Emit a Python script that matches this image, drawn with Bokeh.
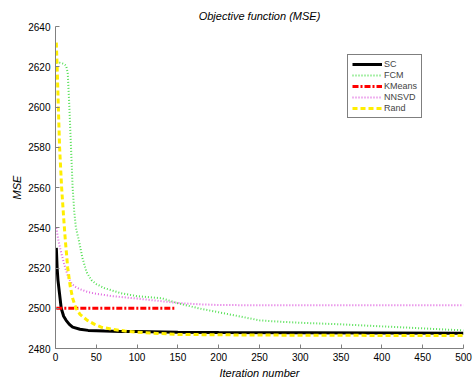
from bokeh.plotting import figure
from bokeh.models import Range1d, FixedTicker, Legend, LegendItem
from bokeh.embed import file_html
from bokeh.resources import INLINE

# ---- data ----
sc_it = [1, 2, 3, 5, 7, 10, 13, 17, 21, 30, 40, 60, 80, 100, 150, 200, 300, 400, 500]
sc_val = [2530, 2520, 2514, 2507, 2500, 2496, 2494, 2492, 2490.6, 2489.6, 2489, 2488.7,
          2488.5, 2488.4, 2488.1, 2487.9, 2487.8, 2487.7, 2487.6]

fcm_it = [1, 5, 10, 13, 15, 17, 19, 21, 23, 25, 29, 33, 38, 44, 50, 60, 80, 100, 130, 150,
          175, 200, 225, 250, 275, 300, 350, 400, 450, 500]
fcm_val = [2622, 2622, 2621.5, 2620.5, 2617, 2600, 2580, 2560, 2548, 2540, 2533, 2525, 2518,
           2514, 2512, 2510, 2507.5, 2506, 2505, 2502.5, 2500, 2498, 2496, 2494, 2493.3,
           2492.8, 2492, 2491, 2490, 2489]

km_it = [1, 148]
km_val = [2500, 2500]

nn_it = [1, 3, 5, 8, 12, 16, 20, 25, 30, 40, 50, 70, 100, 130, 150, 175, 200, 250, 300, 400, 500]
nn_val = [2540, 2535, 2531, 2526, 2520, 2515, 2512, 2510.5, 2509.5, 2508, 2507.2, 2506,
          2504.8, 2503.5, 2502.6, 2502, 2501.6, 2501.5, 2501.5, 2501.5, 2501.5]

rand_it = [1, 2, 3.5, 5, 7.5, 10, 12, 15, 18, 21, 25, 30, 39, 48, 56, 70, 85, 100, 125, 150,
           200, 300, 400, 500]
rand_val = [2632, 2620, 2600, 2580, 2560, 2545, 2534, 2520, 2511, 2505, 2500, 2497, 2494,
            2492, 2490.6, 2489.5, 2488.7, 2488.1, 2487.5, 2487, 2486.8, 2486.6, 2486.5, 2486.5]

x_ticks = [0, 50, 100, 150, 200, 250, 300, 350, 400, 450, 500]
y_ticks = [2480, 2500, 2520, 2540, 2560, 2580, 2600, 2620, 2640]

FONT = "Liberation Sans"

p = figure(width=476, height=383, output_backend="svg", toolbar_location=None,
           x_range=Range1d(0, 500), y_range=Range1d(2480, 2640),
           min_border_left=55, min_border_right=13, min_border_top=26, min_border_bottom=35)

p.title.text = "Objective function (MSE)"
p.title.align = "center"
p.title.text_font = FONT
p.title.text_font_style = "italic"
p.title.text_font_size = "11px"
p.title.text_color = "black"

p.outline_line_color = None
p.xgrid.visible = False
p.ygrid.visible = False

for ax in (p.xaxis[0], p.yaxis[0]):
    ax.axis_line_color = "#808080"
    ax.major_tick_line_color = "#808080"
    ax.minor_tick_line_color = None
    ax.major_tick_in = 4
    ax.major_tick_out = 0
    ax.major_label_text_font = FONT
    ax.major_label_text_font_size = "10px"
    ax.major_label_text_color = "black"
    ax.axis_label_text_font = FONT
    ax.axis_label_text_font_style = "italic"
    ax.axis_label_text_font_size = "11px"
    ax.axis_label_text_color = "black"

p.xaxis.ticker = FixedTicker(ticks=x_ticks)
p.yaxis.ticker = FixedTicker(ticks=y_ticks)
p.xaxis.axis_label = "Iteration number"
p.yaxis.axis_label = "MSE"
p.xaxis.major_label_standoff = 4
p.yaxis.major_label_standoff = 5
p.xaxis.axis_label_standoff = 3
p.yaxis.axis_label_standoff = 2

r_sc = p.line(sc_it, sc_val, line_color="black", line_width=3)
r_fcm = p.line(fcm_it, fcm_val, line_color="#55e055", line_width=2, line_dash="1 2")
r_km = p.line(km_it, km_val, line_color="red", line_width=3, line_dash="6 2 2 2")
r_nn = p.line(nn_it, nn_val, line_color="#e066e0", line_width=2, line_dash="1 2")
r_rand = p.line(rand_it, rand_val, line_color="#ffee00", line_width=3, line_dash="5 3")

legend = Legend(items=[
    LegendItem(label="SC", renderers=[r_sc]),
    LegendItem(label="FCM", renderers=[r_fcm]),
    LegendItem(label="KMeans", renderers=[r_km]),
    LegendItem(label="NNSVD", renderers=[r_nn]),
    LegendItem(label="Rand", renderers=[r_rand]),
], location=(292, 230))
legend.border_line_color = "black"
legend.border_line_width = 1
legend.background_fill_color = "white"
legend.background_fill_alpha = 1
legend.label_text_font = FONT
legend.label_text_font_size = "9px"
legend.label_height = 10
legend.glyph_height = 10
legend.glyph_width = 30
legend.label_standoff = 2
legend.spacing = 1
legend.padding = 4
legend.margin = 0
p.add_layout(legend, "center")

open("out.html", "w").write(file_html(p, INLINE))
